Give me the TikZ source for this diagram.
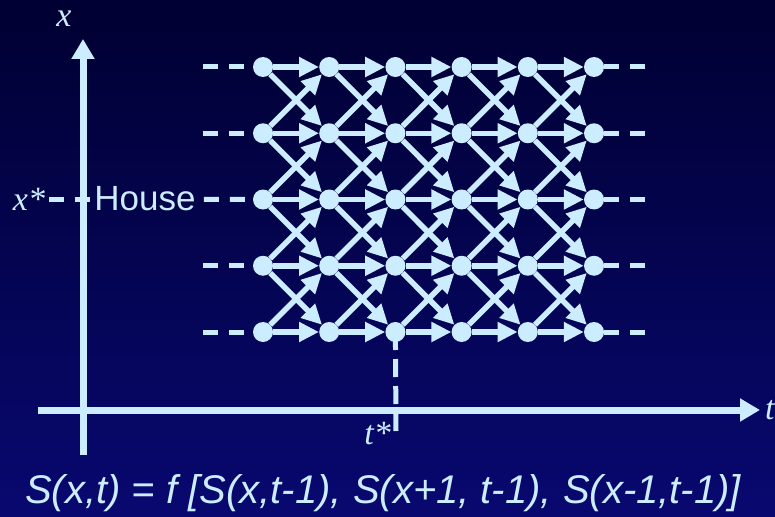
\documentclass[tikz,border=0pt]{standalone}
\usepackage{fontspec}
\setmainfont{Liberation Sans}
\newfontfamily\labfont{Liberation Serif}
\usetikzlibrary{arrows.meta}
\definecolor{bgtop}{RGB}{0,0,50}
\definecolor{bgbot}{RGB}{8,8,112}
\definecolor{netblue}{RGB}{204,236,255}

\begin{document}
\begin{tikzpicture}[x=1pt, y=-1pt,
    dot/.style={circle, fill=netblue, inner sep=0pt, minimum size=20pt},
    link/.style={netblue, line width=5.5pt, -{Triangle[length=20pt,width=19pt]}},
    guide/.style={netblue, line width=5pt, dash pattern=on 15pt off 11pt},
    axis/.style={netblue, line width=7pt, -{Triangle[length=20pt,width=22pt]}},
    lab/.style={text=netblue, font=\labfont\itshape\fontsize{34}{34}\selectfont, inner sep=1pt}]
    % background
    \shade[top color=bgtop, bottom color=bgbot] (0,0) rectangle (775,516);
    \useasboundingbox (0,0) rectangle (775,516);

    % axes
    \coordinate (tail-x) at (83,455);
    \coordinate (tip-x) at (83,39);
    \coordinate (tail-t) at (38,410);
    \coordinate (tip-t) at (760,410);
    \draw[axis] (tail-x) -- (tip-x);
    \draw[axis] (tail-t) -- (tip-t);
    \node[lab] (xlab) at (64,19) {x};
    \node[lab, anchor=west] (tlab) at (764,410) {t};

    % grid of states
    \foreach \c in {0,...,5}
        \foreach \r in {0,...,4}
            \node[dot] (n-\c-\r) at ({263+66.2*\c}, {67+66.25*\r}) {};

    \foreach \c in {0,...,4}
        \foreach \r in {0,...,4} {
            \pgfmathtruncatemacro\nx{\c+1}
            \pgfmathtruncatemacro\up{\r-1}
            \pgfmathtruncatemacro\dn{\r+1}
            \draw[link] (n-\c-\r) -- (n-\nx-\r);
            \ifnum\r>0 \draw[link] (n-\c-\r) -- (n-\nx-\up); \fi
            \ifnum\r<4 \draw[link] (n-\c-\r) -- (n-\nx-\dn); \fi
        }

    % dashed continuations
    \foreach \r in {0,...,4} {
        \coordinate (lend-\r) at (203, {67+66.25*\r});
        \coordinate (rend-\r) at (645, {67+66.25*\r});
        \draw[guide] (n-5-\r) -- (rend-\r);
    }
    \foreach \r in {0,1,3,4}
        \draw[guide] (lend-\r) -- (n-0-\r);

    % house row
    \node[lab] (xstar) at (29,199) {x*};
    \node[text=netblue, font=\fontsize{35}{35}\selectfont, inner sep=2pt] (house) at (145,199) {House};
    \draw[guide, shorten <=3pt] (xstar) -- (house);
    \draw[guide, shorten <=6pt] (house) -- (n-0-2);

    % time t*
    \coordinate (tfoot) at (396,432);
    \draw[netblue, line width=5pt, dash pattern=on 18pt off 9pt] (n-2-4.center) -- (tfoot);
    \node[lab, anchor=east] (tstar) at (392,434) {t*};

    \node[text=netblue, font=\itshape\fontsize{40}{40}\selectfont, anchor=base] (rule) at (383,503)
        {S(x,t) = f [S(x,t-1), S(x+1, t-1), S(x-1,t-1)]};
\end{tikzpicture}
\end{document}
